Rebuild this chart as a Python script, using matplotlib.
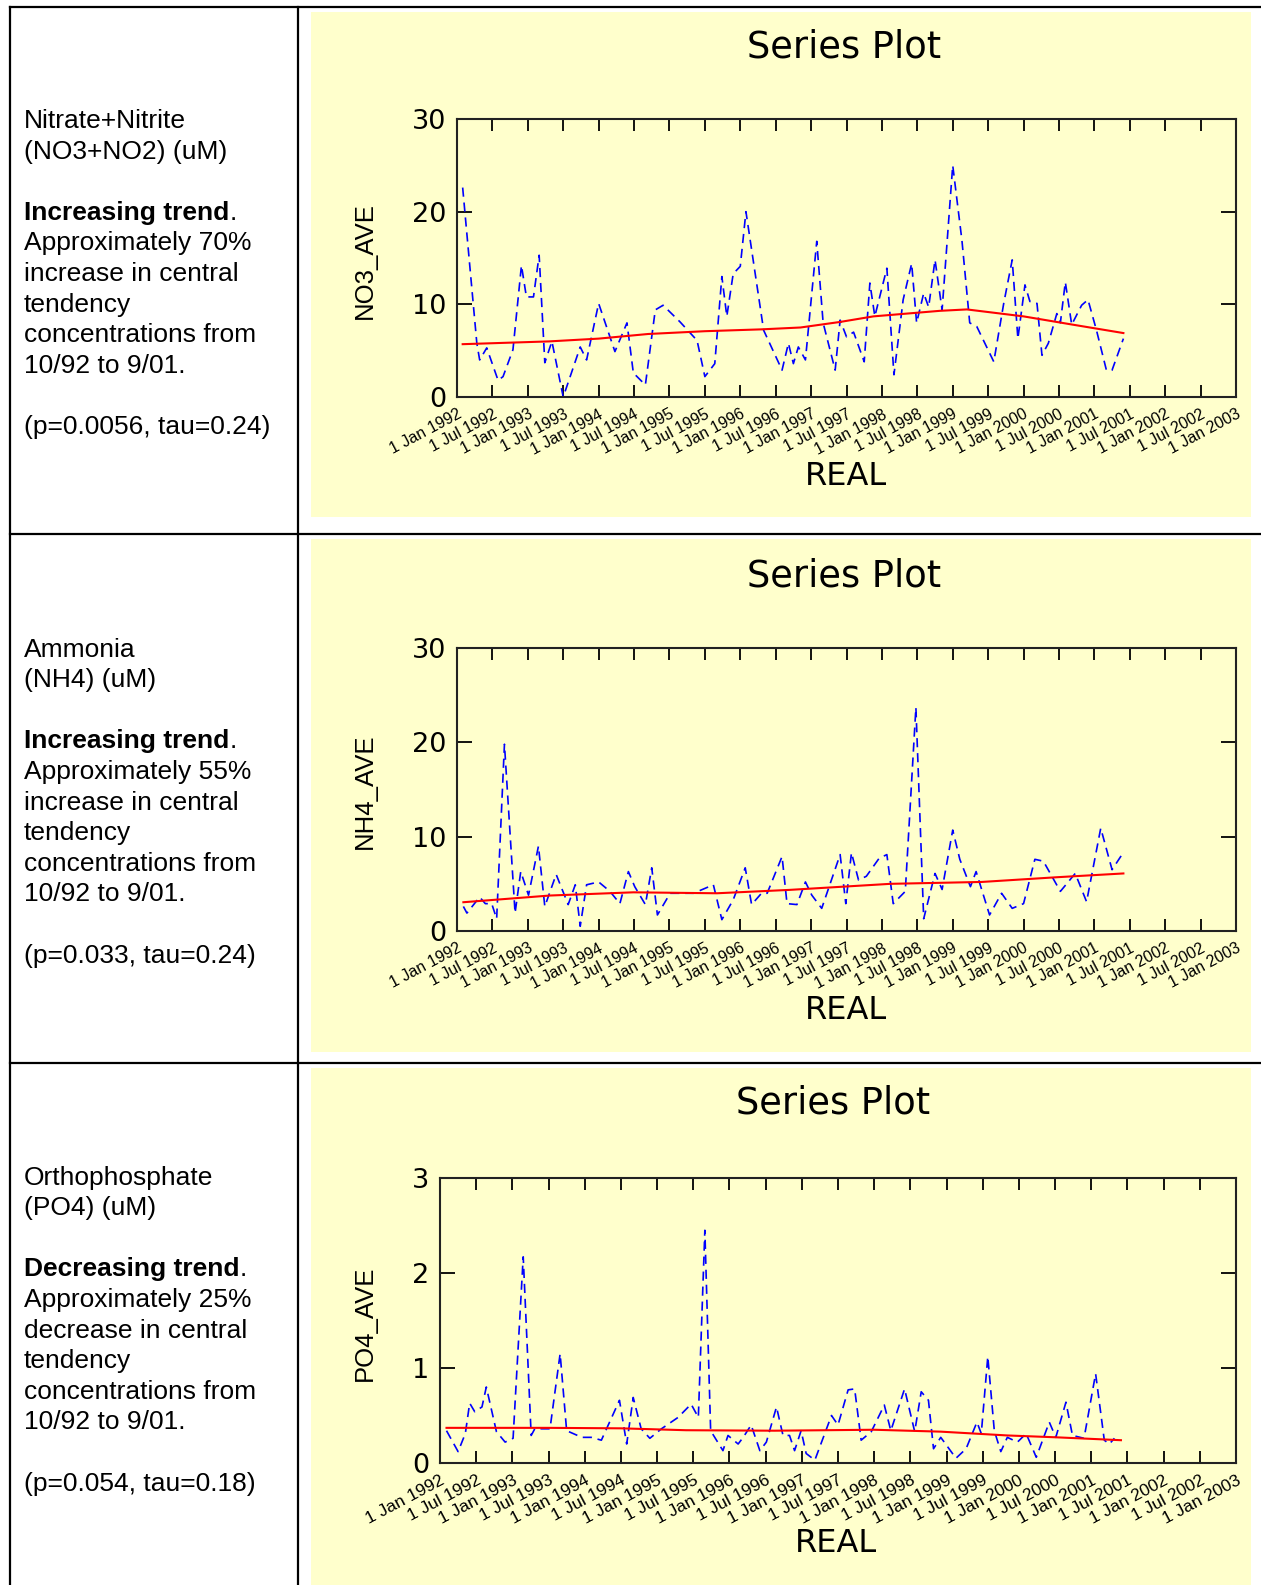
import matplotlib
matplotlib.use("Agg")
import matplotlib.pyplot as plt
from matplotlib.patches import Rectangle
from matplotlib.lines import Line2D

W, H = 1261, 1585
YELLOW = "#ffffcc"
TEXT_FONT = ["Liberation Sans", "DejaVu Sans"]
CHART_FONT = ["DejaVu Sans"]

# ---- data (decimal years) ----
no3_year = [1992.08, 1992.28, 1992.32, 1992.42, 1992.58, 1992.65, 1992.79, 1992.91, 1992.98,
            1993.08, 1993.16, 1993.24, 1993.34, 1993.50, 1993.74, 1993.83, 1994.00, 1994.23,
            1994.40, 1994.49, 1994.66, 1994.80, 1994.91, 1995.15, 1995.39, 1995.50, 1995.64,
            1995.74, 1995.81, 1995.90, 1996.00, 1996.08, 1996.33, 1996.59, 1996.68, 1996.75,
            1996.82, 1996.92, 1997.08, 1997.17, 1997.34, 1997.41, 1997.50, 1997.60, 1997.75,
            1997.83, 1997.90, 1998.07, 1998.17, 1998.30, 1998.42, 1998.49, 1998.59, 1998.66,
            1998.75, 1998.85, 1999.00, 1999.13, 1999.24, 1999.34, 1999.58, 1999.72, 1999.84,
            1999.92, 2000.02, 2000.09, 2000.19, 2000.26, 2000.35, 2000.47, 2000.52, 2000.59,
            2000.68, 2000.82, 2000.91, 2001.03, 2001.17, 2001.25, 2001.41]
no3_val = [22.6, 5.8, 4.0, 5.3, 1.8, 2.2, 5.1, 14.2, 10.8,
           10.8, 15.3, 3.7, 6.0, 0.0, 5.4, 4.0, 10.1, 4.9,
           8.0, 2.6, 1.3, 9.4, 9.9, 8.1, 6.1, 2.2, 3.6,
           13.0, 8.7, 13.3, 14.1, 20.0, 7.2, 2.9, 5.8, 3.6,
           5.4, 4.0, 16.8, 8.0, 2.9, 8.3, 6.5, 7.0, 3.8,
           12.3, 8.7, 13.9, 2.4, 10.5, 14.4, 8.0, 11.2, 9.7,
           14.8, 9.4, 25.0, 16.9, 8.0, 7.6, 3.8, 10.1, 14.8,
           6.3, 12.1, 10.3, 10.1, 4.5, 5.8, 9.0, 8.0, 12.4,
           7.8, 9.9, 10.5, 7.2, 2.9, 2.9, 6.3]
no3_trend_year = [1992.08, 1993.3, 1994.0, 1994.7, 1995.5, 1996.3, 1996.85, 1997.41,
                  1997.88, 1998.35, 1998.82, 1999.2, 2000.0, 2000.7, 2001.41]
no3_trend_val = [5.7, 6.0, 6.3, 6.8, 7.1, 7.3, 7.5, 8.1, 8.7, 9.0, 9.3, 9.45, 8.7, 7.8, 6.9]

nh4_year = [1992.09, 1992.14, 1992.32, 1992.40, 1992.49, 1992.56, 1992.67, 1992.82, 1992.90,
            1993.01, 1993.15, 1993.24, 1993.40, 1993.57, 1993.67, 1993.74, 1993.83, 1994.00,
            1994.16, 1994.30, 1994.42, 1994.51, 1994.66, 1994.75, 1994.83, 1995.01, 1995.34,
            1995.62, 1995.74, 1995.90, 1996.07, 1996.16, 1996.30, 1996.38, 1996.59, 1996.66,
            1996.80, 1996.92, 1997.01, 1997.15, 1997.41, 1997.49, 1997.57, 1997.67, 1997.78,
            1997.96, 1998.07, 1998.16, 1998.33, 1998.48, 1998.59, 1998.75, 1998.85, 1999.00,
            1999.10, 1999.25, 1999.33, 1999.52, 1999.69, 1999.84, 2000.00, 2000.16, 2000.28,
            2000.52, 2000.73, 2000.89, 2001.09, 2001.25, 2001.39]
nh4_val = [2.6, 1.9, 3.6, 2.9, 2.9, 1.3, 19.8, 1.9, 6.3,
           3.8, 9.0, 2.6, 6.0, 2.8, 4.9, 0.5, 4.9, 5.2,
           4.2, 2.9, 6.3, 4.7, 2.8, 6.7, 1.7, 4.0, 4.0,
           4.9, 1.2, 3.3, 6.7, 2.8, 4.0, 4.0, 7.9, 2.9,
           2.8, 5.2, 3.8, 2.4, 8.1, 2.9, 8.3, 5.4, 5.8,
           7.7, 8.1, 2.9, 4.2, 23.7, 1.3, 6.1, 4.4, 10.7,
           7.6, 4.7, 6.3, 1.7, 4.0, 2.4, 2.9, 7.6, 7.4,
           4.2, 6.1, 3.1, 10.9, 6.5, 8.1]
nh4_trend_year = [1992.09, 1993.31, 1994.49, 1995.67, 1996.7, 1998.12, 1999.41, 2000.47, 2001.41]
nh4_trend_val = [3.05, 3.76, 4.1, 4.0, 4.36, 5.0, 5.2, 5.7, 6.1]

po4_year = [1992.09, 1992.25, 1992.35, 1992.41, 1992.48, 1992.58, 1992.64, 1992.78, 1992.90,
            1993.01, 1993.15, 1993.26, 1993.31, 1993.52, 1993.66, 1993.75, 1993.96, 1994.09,
            1994.23, 1994.48, 1994.58, 1994.67, 1994.78, 1994.90, 1995.06, 1995.29, 1995.47,
            1995.57, 1995.66, 1995.74, 1995.91, 1995.98, 1996.12, 1996.19, 1996.30, 1996.42,
            1996.51, 1996.65, 1996.74, 1996.83, 1996.90, 1996.99, 1997.06, 1997.18, 1997.41,
            1997.50, 1997.64, 1997.73, 1997.82, 1997.96, 1998.14, 1998.23, 1998.42, 1998.56,
            1998.65, 1998.75, 1998.82, 1998.92, 1999.13, 1999.27, 1999.42, 1999.48, 1999.57,
            1999.66, 1999.75, 1999.84, 1999.98, 2000.10, 2000.24, 2000.42, 2000.51, 2000.65,
            2000.74, 2000.90, 2001.06, 2001.18, 2001.25, 2001.32]
po4_val = [0.34, 0.12, 0.31, 0.63, 0.54, 0.59, 0.80, 0.33, 0.22,
           0.26, 2.17, 0.29, 0.36, 0.36, 1.15, 0.34, 0.27, 0.27,
           0.24, 0.66, 0.20, 0.69, 0.36, 0.26, 0.36, 0.48, 0.62,
           0.48, 2.45, 0.34, 0.13, 0.29, 0.20, 0.27, 0.40, 0.13,
           0.22, 0.59, 0.29, 0.29, 0.13, 0.34, 0.10, 0.03, 0.50,
           0.40, 0.77, 0.78, 0.24, 0.33, 0.61, 0.34, 0.78, 0.33,
           0.75, 0.66, 0.15, 0.27, 0.05, 0.15, 0.43, 0.31, 1.12,
           0.34, 0.12, 0.27, 0.22, 0.31, 0.06, 0.43, 0.27, 0.64,
           0.29, 0.26, 0.94, 0.24, 0.20, 0.26]
po4_trend_year = [1992.09, 1993.5, 1994.5, 1995.4, 1996.62, 1998.0, 1998.92, 1999.84, 2000.53, 2001.41]
po4_trend_val = [0.37, 0.37, 0.365, 0.345, 0.34, 0.35, 0.33, 0.29, 0.27, 0.24]

tick_pos = [1992 + 0.5 * i for i in range(23)]
tick_labels = [f"1 {m} {y}" for y in range(1992, 2003) for m in ("Jan", "Jul")] + ["1 Jan 2003"]

no3_text = ["Nitrate+Nitrite", "(NO3+NO2) (uM)"]
no3_trend = "Increasing trend"
no3_desc = ["Approximately 70%", "increase in central", "tendency", "concentrations from", "10/92 to 9/01."]
no3_stats = "(p=0.0056, tau=0.24)"

nh4_text = ["Ammonia", "(NH4) (uM)"]
nh4_trend = "Increasing trend"
nh4_desc = ["Approximately 55%", "increase in central", "tendency", "concentrations from", "10/92 to 9/01."]
nh4_stats = "(p=0.033, tau=0.24)"

po4_text = ["Orthophosphate", "(PO4) (uM)"]
po4_trend = "Decreasing trend"
po4_desc = ["Approximately 25%", "decrease in central", "tendency", "concentrations from", "10/92 to 9/01."]
po4_stats = "(p=0.054, tau=0.18)"


def fx(x):
    return x / W


def fy(y):
    return 1 - y / H


fig = plt.figure(figsize=(W / 100, H / 100), dpi=100)
renderer = fig.canvas.get_renderer()

# yellow chart panels
for top, bottom in [(12, 517), (539, 1052), (1068, 1585)]:
    fig.add_artist(Rectangle((fx(311), fy(bottom)), (1251 - 311) / W, (bottom - top) / H,
                             transform=fig.transFigure, facecolor=YELLOW,
                             edgecolor="none", zorder=0))

# table grid
for y in [7, 534, 1063]:
    fig.add_artist(Line2D([fx(10), 1], [fy(y), fy(y)], transform=fig.transFigure,
                          color="black", lw=1.6))
for x in [10, 298]:
    fig.add_artist(Line2D([fx(x), fx(x)], [fy(7), 0], transform=fig.transFigure,
                          color="black", lw=1.6))


def draw_notes(base, name, trend, desc, stats):
    step = 30.6
    kw = dict(fontsize=19, family=TEXT_FONT, va="baseline", ha="left")
    for i, line in enumerate(name):
        fig.text(fx(24), fy(base + i * step), line, **kw)
    t = fig.text(fx(24), fy(base + 3 * step), trend, weight="bold", **kw)
    x1 = t.get_window_extent(renderer=renderer).x1
    fig.text(x1 / W, fy(base + 3 * step), ".", **kw)
    for i, line in enumerate(desc):
        fig.text(fx(24), fy(base + (4 + i) * step), line, **kw)
    fig.text(fx(24), fy(base + 10 * step), stats, **kw)


def draw_chart(left, top, right, bottom, years, vals, tyears, tvals, ymax, yticks,
               ylabel, ylabel_y, title_x, title_y, real_x, real_y, ylab_x, tick_fs):
    ax = fig.add_axes([fx(left), fy(bottom), (right - left) / W, (bottom - top) / H])
    ax.set_facecolor(YELLOW)
    ax.plot(years, vals, color="#0000ff", lw=1.2, ls=(0, (5.5, 3.5)))
    ax.plot(tyears, tvals, color="#ff0000", lw=1.5)
    ax.set_xlim(1992, 2003)
    ax.set_ylim(0, ymax)
    ax.set_xticks(tick_pos)
    ax.set_xticklabels(tick_labels, rotation=28, ha="right", rotation_mode="anchor",
                       fontsize=tick_fs, family=TEXT_FONT)
    ax.set_yticks(yticks)
    ax.set_yticklabels([str(v) for v in yticks], fontsize=19.5, family=CHART_FONT)
    ax.tick_params(axis="x", direction="in", top=True, length=8.5, width=1.3, pad=7)
    ax.tick_params(axis="y", direction="in", right=True, length=11, width=1.3, pad=8)
    for s in ax.spines.values():
        s.set_color("#222222")
        s.set_linewidth(1.5)
    ax.set_ylabel(ylabel, fontsize=18.5, family=TEXT_FONT)
    ax.yaxis.set_label_coords(fx(ylab_x), fy(ylabel_y), transform=fig.transFigure)
    ax.yaxis.label.set_va("center")
    ax.set_xlabel("REAL", fontsize=23, family=CHART_FONT)
    ax.xaxis.set_label_coords(fx(real_x), fy(real_y), transform=fig.transFigure)
    ax.xaxis.label.set_va("baseline")
    fig.text(fx(title_x), fy(title_y), "Series Plot", ha="center", va="baseline",
             fontsize=26.5, family=CHART_FONT)
    return ax


draw_notes(128, no3_text, no3_trend, no3_desc, no3_stats)
draw_notes(656.5, nh4_text, nh4_trend, nh4_desc, nh4_stats)
draw_notes(1184.5, po4_text, po4_trend, po4_desc, po4_stats)

draw_chart(457, 119, 1236, 397, no3_year, no3_val, no3_trend_year, no3_trend_val,
           30, [0, 10, 20, 30], "NO3_AVE", 261, 844, 58, 846, 485, 365, 11.5)
draw_chart(457, 648, 1236, 931, nh4_year, nh4_val, nh4_trend_year, nh4_trend_val,
           30, [0, 10, 20, 30], "NH4_AVE", 791, 844, 586.5, 846, 1019, 365, 11.5)
draw_chart(440, 1178, 1236, 1463, po4_year, po4_val, po4_trend_year, po4_trend_val,
           3, [0, 1, 2, 3], "PO4_AVE", 1323, 833, 1114, 836, 1552, 365, 12.5)

fig.savefig("out.png", dpi=100, facecolor="white")
